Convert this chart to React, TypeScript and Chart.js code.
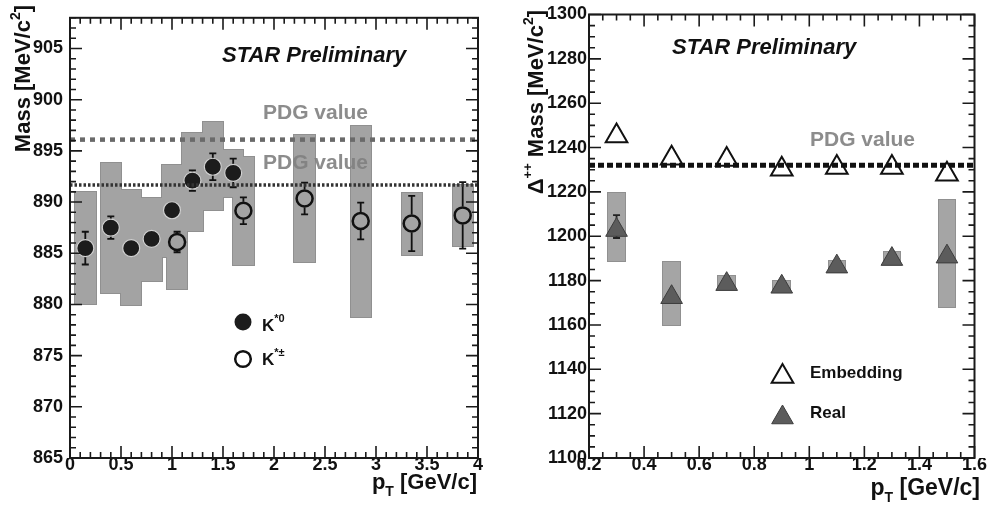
import React, { useEffect, useRef } from "react";
import { Chart, registerables } from "chart.js";

Chart.register(...registerables);

const FONT = '"Liberation Sans", Arial, Helvetica, sans-serif';

// ---------------- Left panel: K* mass vs pT ----------------
const xTicksLeft = [0, 0.5, 1, 1.5, 2, 2.5, 3, 3.5, 4];
const yTicksLeft = [865, 870, 875, 880, 885, 890, 895, 900, 905];

// K*0 (filled circles)
const ptK0 = [0.15, 0.4, 0.6, 0.8, 1.0, 1.2, 1.4, 1.6];
const massK0 = [885.5, 887.5, 885.5, 886.4, 889.2, 892.1, 893.45, 892.85];
const errK0 = [1.6, 1.1, 0.5, 0.5, 0.6, 1.0, 1.3, 1.4];
const sysLoK0 = [880.0, 881.1, 879.9, 882.3, 884.6, 887.2, 889.2, 890.5];
const sysHiK0 = [891.0, 893.8, 891.2, 890.4, 893.6, 896.7, 897.8, 895.1];

// K*± (open circles)
const ptKC = [1.05, 1.7, 2.3, 2.85, 3.35, 3.85];
const massKC = [886.1, 889.15, 890.35, 888.15, 887.9, 888.7];
const errKC = [1.0, 1.3, 1.55, 1.8, 2.7, 3.25];
const sysLoKC = [881.5, 883.9, 884.1, 878.8, 884.8, 885.7];
const sysHiKC = [890.5, 894.4, 896.6, 897.4, 890.85, 891.7];

const pdgK0 = 896.1;
const pdgKC = 891.66;
const binHalfLeft = 0.1;

// ---------------- Right panel: Delta++ mass vs pT ----------------
const xTicksRight = [0.2, 0.4, 0.6, 0.8, 1, 1.2, 1.4, 1.6];
const yTicksRight = [1100, 1120, 1140, 1160, 1180, 1200, 1220, 1240, 1260, 1280, 1300];

const ptDelta = [0.3, 0.5, 0.7, 0.9, 1.1, 1.3, 1.5];
const massEmbedding = [1245.2, 1235.2, 1234.6, 1230.2, 1231.0, 1231.0, 1228.0];
const massReal = [1202.8, 1172.5, 1178.4, 1177.2, 1186.3, 1189.7, 1190.8];
const realErrUp = [6.7, 1.5, 1.5, 1.5, 1.5, 1.5, 1.5];
const realErrDown = [3.6, 1.5, 1.5, 1.5, 1.5, 1.5, 1.5];
const realSysLo = [1189.0, 1160.0, 1176.0, 1175.0, 1184.0, 1188.0, 1168.0];
const realSysHi = [1219.7, 1188.2, 1182.0, 1180.0, 1189.0, 1193.0, 1216.3];

const pdgDelta = 1232;
const binHalfRight = 0.03;

// ---------------- helpers ----------------
type Seg = { text: string; size: number; dy?: number; italic?: boolean };

function fontOf(s: Seg) {
  return `${s.italic ? "italic " : ""}bold ${s.size}px ${FONT}`;
}

function richWidth(ctx: CanvasRenderingContext2D, segs: Seg[]) {
  let w = 0;
  for (const s of segs) {
    ctx.font = fontOf(s);
    w += ctx.measureText(s.text).width;
  }
  return w;
}

function drawRich(
  ctx: CanvasRenderingContext2D,
  segs: Seg[],
  x: number,
  y: number,
  align: "left" | "right",
  color: string
) {
  const w = richWidth(ctx, segs);
  let cx = align === "right" ? x - w : x;
  ctx.fillStyle = color;
  ctx.textAlign = "left";
  ctx.textBaseline = "alphabetic";
  for (const s of segs) {
    ctx.font = fontOf(s);
    ctx.fillText(s.text, cx, y + (s.dy || 0));
    cx += ctx.measureText(s.text).width;
  }
}

function drawVerticalTitle(
  ctx: CanvasRenderingContext2D,
  segs: Seg[],
  baselineX: number,
  topY: number
) {
  ctx.save();
  ctx.translate(baselineX, topY);
  ctx.rotate(-Math.PI / 2);
  drawRich(ctx, segs, 0, 0, "right", "#111");
  ctx.restore();
}

function drawFrameAndTicks(
  chart: any,
  xStep: number,
  xMajor: number,
  yStep: number,
  yMajor: number
) {
  const { ctx, chartArea: a } = chart;
  const xs = chart.scales.x;
  const ys = chart.scales.y;
  ctx.save();
  ctx.strokeStyle = "#1a1a1a";
  ctx.lineWidth = 1.6;
  const isMajor = (v: number, m: number) => Math.abs(v / m - Math.round(v / m)) < 1e-6;
  const nx = Math.round((xs.max - xs.min) / xStep);
  ctx.beginPath();
  for (let i = 0; i <= nx; i++) {
    const v = xs.min + i * xStep;
    const L = isMajor(v, xMajor) ? 12 : 6;
    const px = xs.getPixelForValue(v);
    ctx.moveTo(px, a.bottom);
    ctx.lineTo(px, a.bottom - L);
    ctx.moveTo(px, a.top);
    ctx.lineTo(px, a.top + L);
  }
  const ny = Math.round((ys.max - ys.min) / yStep);
  for (let i = 0; i <= ny; i++) {
    const v = ys.min + i * yStep;
    const L = isMajor(v, yMajor) ? 12 : 6;
    const py = ys.getPixelForValue(v);
    ctx.moveTo(a.left, py);
    ctx.lineTo(a.left + L, py);
    ctx.moveTo(a.right, py);
    ctx.lineTo(a.right - L, py);
  }
  ctx.stroke();
  ctx.lineWidth = 2;
  ctx.strokeRect(a.left, a.top, a.right - a.left, a.bottom - a.top);
  ctx.restore();
}

function drawBoxes(
  chart: any,
  sets: { xs: number[]; lo: number[]; hi: number[]; half: number }[],
  fill: string,
  stroke: string
) {
  const { ctx } = chart;
  const xs = chart.scales.x;
  const ys = chart.scales.y;
  const rects: number[][] = [];
  for (const s of sets) {
    s.xs.forEach((x, i) => {
      const l = Math.round(xs.getPixelForValue(x - s.half));
      const r = Math.round(xs.getPixelForValue(x + s.half));
      const t = Math.round(ys.getPixelForValue(s.hi[i]));
      const b = Math.round(ys.getPixelForValue(s.lo[i]));
      rects.push([l, t, r - l, b - t]);
    });
  }
  ctx.save();
  ctx.strokeStyle = stroke;
  ctx.lineWidth = 2;
  rects.forEach((r) => ctx.strokeRect(r[0], r[1], r[2], r[3]));
  ctx.fillStyle = fill;
  rects.forEach((r) => ctx.fillRect(r[0], r[1], r[2], r[3]));
  ctx.restore();
}

function drawErrorBars(
  chart: any,
  xsArr: number[],
  ysArr: number[],
  up: number[],
  down: number[],
  gap: number,
  color: string
) {
  const { ctx } = chart;
  const xs = chart.scales.x;
  const ys = chart.scales.y;
  ctx.save();
  ctx.strokeStyle = color;
  ctx.lineWidth = 1.8;
  ctx.beginPath();
  xsArr.forEach((x, i) => {
    const px = xs.getPixelForValue(x);
    const py = ys.getPixelForValue(ysArr[i]);
    const pHi = ys.getPixelForValue(ysArr[i] + up[i]);
    const pLo = ys.getPixelForValue(ysArr[i] - down[i]);
    if (pHi < py - gap) {
      ctx.moveTo(px, py - gap);
      ctx.lineTo(px, pHi);
      ctx.moveTo(px - 3.5, pHi);
      ctx.lineTo(px + 3.5, pHi);
    }
    if (pLo > py + gap) {
      ctx.moveTo(px, py + gap);
      ctx.lineTo(px, pLo);
      ctx.moveTo(px - 3.5, pLo);
      ctx.lineTo(px + 3.5, pLo);
    }
  });
  ctx.stroke();
  ctx.restore();
}

function triangle(ctx: CanvasRenderingContext2D, x: number, y: number, r: number) {
  ctx.beginPath();
  for (let k = 0; k < 3; k++) {
    const ang = (k * 2 * Math.PI) / 3;
    const px = x + Math.sin(ang) * r;
    const py = y - Math.cos(ang) * r;
    if (k === 0) ctx.moveTo(px, py);
    else ctx.lineTo(px, py);
  }
  ctx.closePath();
}

const tickFont = { family: FONT, size: 18, weight: "bold" as const };

function baseScales(
  xMin: number,
  xMax: number,
  xTicks: number[],
  yMin: number,
  yMax: number,
  yTicks: number[],
  yWidth: number,
  yPad: number
) {
  return {
    x: {
      type: "linear",
      min: xMin,
      max: xMax,
      grid: { display: false, drawTicks: false },
      border: { display: false },
      ticks: {
        font: tickFont,
        color: "#111",
        padding: -4,
        autoSkip: false,
        maxRotation: 0,
        callback: (v: number) => String(v),
      },
      afterBuildTicks: (s: any) => {
        s.ticks = xTicks.map((v) => ({ value: v }));
      },
      afterFit: (s: any) => {
        s.height = 48;
      },
    },
    y: {
      type: "linear",
      min: yMin,
      max: yMax,
      grid: { display: false, drawTicks: false },
      border: { display: false },
      ticks: {
        font: tickFont,
        color: "#111",
        padding: yPad,
        autoSkip: false,
        callback: (v: number) => String(v),
      },
      afterBuildTicks: (s: any) => {
        s.ticks = yTicks.map((v) => ({ value: v }));
      },
      afterFit: (s: any) => {
        s.width = yWidth;
      },
    },
  };
}

const LEFT_W = 494;
const RIGHT_OFF = 494;
const RIGHT_W = 495;
const H = 506;

export default function App() {
  const leftRef = useRef<HTMLCanvasElement>(null);
  const rightRef = useRef<HTMLCanvasElement>(null);

  useEffect(() => {
    // ---------- left chart ----------
    const leftPlugin = {
      id: "leftDecor",
      beforeDatasetsDraw(chart: any) {
        drawBoxes(
          chart,
          [
            { xs: ptK0, lo: sysLoK0, hi: sysHiK0, half: binHalfLeft },
            { xs: ptKC, lo: sysLoKC, hi: sysHiKC, half: binHalfLeft },
          ],
          "#a3a3a3",
          "#909090"
        );
        drawErrorBars(chart, ptK0, massK0, errK0, errK0, 0, "#111");
        drawErrorBars(chart, ptKC, massKC, errKC, errKC, 9, "#111");
      },
      afterDatasetsDraw(chart: any) {
        const ctx = chart.ctx as CanvasRenderingContext2D;
        drawFrameAndTicks(chart, 0.1, 0.5, 1, 5);
        drawRich(ctx, [{ text: "STAR Preliminary", size: 22, italic: true }], 222, 62, "left", "#111");
        drawRich(ctx, [{ text: "PDG value", size: 21 }], 263, 119, "left", "rgba(128,128,128,0.9)");
        drawRich(ctx, [{ text: "PDG value", size: 21 }], 263, 169, "left", "rgba(128,128,128,0.9)");
        ctx.save();
        ctx.beginPath();
        ctx.arc(243, 322, 8.5, 0, Math.PI * 2);
        ctx.fillStyle = "#1c1c1c";
        ctx.fill();
        ctx.beginPath();
        ctx.arc(243, 359, 7.8, 0, Math.PI * 2);
        ctx.strokeStyle = "#111";
        ctx.lineWidth = 2.5;
        ctx.stroke();
        ctx.restore();
        drawRich(ctx, [{ text: "K", size: 17 }, { text: "*0", size: 11, dy: -9 }], 262, 331, "left", "#111");
        drawRich(ctx, [{ text: "K", size: 17 }, { text: "*±", size: 11, dy: -9 }], 262, 365, "left", "#111");
        drawVerticalTitle(
          ctx,
          [
            { text: "Mass [MeV/c", size: 22 },
            { text: "2", size: 14, dy: -10 },
            { text: "]", size: 22 },
          ],
          30,
          5
        );
        drawRich(
          ctx,
          [
            { text: "p", size: 22 },
            { text: "T", size: 14, dy: 7 },
            { text: " [GeV/c]", size: 22 },
          ],
          477,
          489,
          "right",
          "#111"
        );
      },
    };

    const leftChart = new Chart(leftRef.current as HTMLCanvasElement, {
      type: "scatter",
      data: {
        datasets: [
          {
            type: "line",
            data: [
              { x: 0, y: pdgK0 },
              { x: 4, y: pdgK0 },
            ],
            borderColor: "#6a6a6a",
            borderWidth: 4.5,
            borderDash: [5, 5],
            pointRadius: 0,
            order: 0,
          },
          {
            type: "line",
            data: [
              { x: 0, y: pdgKC },
              { x: 4, y: pdgKC },
            ],
            borderColor: "#333",
            borderWidth: 3.5,
            borderDash: [2.5, 2],
            pointRadius: 0,
            order: 0,
          },
          {
            data: ptKC.map((x, i) => ({ x, y: massKC[i] })),
            pointRadius: 8,
            pointBackgroundColor: "rgba(0,0,0,0)",
            pointBorderColor: "#111",
            pointBorderWidth: 2.5,
            order: 1,
          },
          {
            data: ptK0.map((x, i) => ({ x, y: massK0[i] })),
            pointRadius: 8.5,
            pointBackgroundColor: "#1c1c1c",
            pointBorderColor: "#d0d0d0",
            pointBorderWidth: 1.2,
            order: 2,
          },
        ],
      } as any,
      options: {
        responsive: false,
        animation: false,
        devicePixelRatio: 1,
        layout: { padding: { left: 0, top: 5, right: LEFT_W - 478, bottom: 0 } },
        plugins: { legend: { display: false }, tooltip: { enabled: false } },
        scales: baseScales(0, 4, xTicksLeft, 865, 908, yTicksLeft, 70, 7) as any,
      },
      plugins: [leftPlugin],
    });

    // ---------- right chart ----------
    const o = RIGHT_OFF;
    const rightPlugin = {
      id: "rightDecor",
      beforeDatasetsDraw(chart: any) {
        drawBoxes(
          chart,
          [{ xs: ptDelta, lo: realSysLo, hi: realSysHi, half: binHalfRight }],
          "#a5a5a5",
          "#909090"
        );
        drawErrorBars(chart, ptDelta, massReal, realErrUp, realErrDown, 0, "#222");
      },
      afterDatasetsDraw(chart: any) {
        const ctx = chart.ctx as CanvasRenderingContext2D;
        drawFrameAndTicks(chart, 0.05, 0.2, 5, 20);
        drawRich(ctx, [{ text: "STAR Preliminary", size: 22, italic: true }], 672 - o, 54, "left", "#111");
        drawRich(ctx, [{ text: "PDG value", size: 21 }], 810 - o, 146, "left", "rgba(128,128,128,0.9)");
        ctx.save();
        triangle(ctx, 782.5 - o, 376.5, 12.5);
        ctx.strokeStyle = "#111";
        ctx.lineWidth = 2;
        ctx.stroke();
        triangle(ctx, 782.5 - o, 417.5, 12.5);
        ctx.fillStyle = "#5c5c5c";
        ctx.fill();
        ctx.strokeStyle = "#3c3c3c";
        ctx.lineWidth = 1;
        ctx.stroke();
        ctx.restore();
        drawRich(ctx, [{ text: "Embedding", size: 17 }], 810 - o, 378, "left", "#111");
        drawRich(ctx, [{ text: "Real", size: 17 }], 810 - o, 418, "left", "#111");
        drawVerticalTitle(
          ctx,
          [
            { text: "Δ", size: 22 },
            { text: "++", size: 13, dy: -11 },
            { text: " Mass [MeV/c", size: 22 },
            { text: "2", size: 14, dy: -10 },
            { text: "]", size: 22 },
          ],
          543 - o,
          10
        );
        drawRich(
          ctx,
          [
            { text: "p", size: 23 },
            { text: "T", size: 14, dy: 7 },
            { text: " [GeV/c]", size: 23 },
          ],
          980 - o,
          495,
          "right",
          "#111"
        );
      },
    };

    const rightChart = new Chart(rightRef.current as HTMLCanvasElement, {
      type: "scatter",
      data: {
        datasets: [
          {
            type: "line",
            data: [
              { x: 0.2, y: pdgDelta },
              { x: 1.6, y: pdgDelta },
            ],
            borderColor: "#111",
            borderWidth: 5,
            borderDash: [6, 3],
            pointRadius: 0,
            order: 0,
          },
          {
            data: ptDelta.map((x, i) => ({ x, y: massEmbedding[i] })),
            pointStyle: "triangle",
            pointRadius: 12.5,
            pointBackgroundColor: "rgba(0,0,0,0)",
            pointBorderColor: "#111",
            pointBorderWidth: 2,
            order: 1,
          },
          {
            data: ptDelta.map((x, i) => ({ x, y: massReal[i] })),
            pointStyle: "triangle",
            pointRadius: 12.5,
            pointBackgroundColor: "#5c5c5c",
            pointBorderColor: "#3c3c3c",
            pointBorderWidth: 1,
            order: 2,
          },
        ],
      } as any,
      options: {
        responsive: false,
        animation: false,
        devicePixelRatio: 1,
        layout: { padding: { left: 0, top: 13, right: RIGHT_W - (977 - o), bottom: 0 } },
        plugins: { legend: { display: false }, tooltip: { enabled: false } },
        scales: baseScales(0.2, 1.6, xTicksRight, 1100, 1300, yTicksRight, 589 - o, 2) as any,
      },
      plugins: [rightPlugin],
    });

    return () => {
      leftChart.destroy();
      rightChart.destroy();
    };
  }, []);

  return (
    <div
      style={{
        position: "absolute",
        left: 0,
        top: 0,
        width: 989,
        height: H,
        background: "#fff",
        overflow: "hidden",
      }}
    >
      <canvas
        ref={leftRef}
        width={LEFT_W}
        height={H}
        style={{ position: "absolute", left: 0, top: 0, width: LEFT_W, height: H }}
      />
      <canvas
        ref={rightRef}
        width={RIGHT_W}
        height={H}
        style={{ position: "absolute", left: RIGHT_OFF, top: 0, width: RIGHT_W, height: H }}
      />
    </div>
  );
}
